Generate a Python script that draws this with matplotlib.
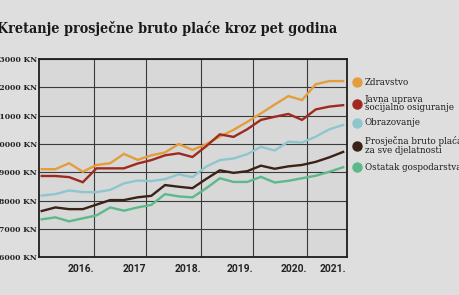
import matplotlib
matplotlib.use("Agg")
import matplotlib.pyplot as plt
from matplotlib.lines import Line2D

# data points (23 periods)
zdravstvo = [9110, 9110, 9320, 9020, 9260, 9320, 9650, 9440, 9600, 9700, 10000, 9790,
             9990, 10260, 10500, 10780, 11080, 11390, 11690, 11550, 12110, 12220, 12220]
javna_uprava = [8870, 8870, 8830, 8650, 9140, 9140, 9140, 9310, 9430, 9600, 9670, 9540,
                9920, 10340, 10250, 10520, 10850, 10960, 11060, 10850, 11220, 11320, 11370]
obrazovanje = [8180, 8230, 8360, 8300, 8300, 8380, 8610, 8710, 8690, 8760, 8930, 8830,
               9200, 9430, 9490, 9640, 9900, 9770, 10080, 10050, 10260, 10520, 10670]
prosjecna = [7635, 7760, 7700, 7700, 7860, 8020, 8020, 8118, 8170, 8550, 8490, 8440,
             8765, 9070, 8980, 9040, 9235, 9125, 9210, 9260, 9370, 9530, 9720]
ostatak = [7340, 7410, 7270, 7376, 7480, 7760, 7646, 7760, 7850, 8230, 8150, 8115,
           8435, 8790, 8660, 8660, 8840, 8640, 8700, 8790, 8880, 9020, 9180]

series = [zdravstvo, javna_uprava, obrazovanje, prosjecna, ostatak]
labels = ["Zdravstvo", "Javna uprava\nsocijalno osiguranje", "Obrazovanje",
          "Prosječna bruto plaća\nza sve djelatnosti", "Ostatak gospodarstva"]
colors = ["#E39E3C", "#9E2A1F", "#8FC6CE", "#3A2216", "#5CB98A"]

year_labels = ["2016.", "2017", "2018.", "2019.", "2020.", "2021."]
year_pos = [3.80, 7.64, 11.61, 15.45, 19.34, 22.26]
y_ticks = list(range(6000, 13001, 1000))

fig = plt.figure(figsize=(4.6, 2.95), dpi=100, facecolor="#dedede")
ax = fig.add_axes([0.0837, 0.1278, 0.670, 0.6722])
ax.set_facecolor("#d8d8d8")

x = list(range(len(zdravstvo)))
for s, c in zip(series, colors):
    ax.plot(x, s, color=c, linewidth=1.7, solid_joinstyle="miter")

ax.set_xlim(-0.234, 22.26)
ax.set_ylim(6000, 13000)
ax.set_xticks(year_pos)
ax.set_xticklabels(year_labels, fontfamily="Roboto", fontweight="bold", fontsize=7.4,
                   color="#222222")
for lab in ax.get_xticklabels():
    lab.set_ha("right")
ax.set_yticks(y_ticks)
ax.set_yticklabels([f"{v} KN" for v in y_ticks], fontfamily="DejaVu Serif",
                   fontweight="bold", fontsize=6.1, fontstretch="condensed",
                   color="#222222")
ax.tick_params(length=0, pad=1)
ax.tick_params(axis="x", pad=5)
ax.grid(True, color="#3a3a3a", linewidth=0.8)
ax.set_axisbelow(True)
for sp in ax.spines.values():
    sp.set_color("#1e1e1e")
    sp.set_linewidth(1.3)

fig.text(-0.006, 1 - 33 / 295, "Kretanje prosječne bruto plaće kroz pet godina",
         fontfamily="DejaVu Serif", fontweight="bold", fontsize=10.3,
         fontstretch="condensed", va="baseline", ha="left", color="#1a1a1a")

# legend drawn by hand
leg_y = [82.3, 103.5, 122.7, 145.5, 167.3]
for yy, lab, c in zip(leg_y, labels, colors):
    fy = 1 - yy / 295
    fig.add_artist(Line2D([356.7 / 460], [fy], marker="o", markersize=6.5,
                          color=c, linestyle="none", transform=fig.transFigure))
    fig.text(365 / 460, fy, lab, fontfamily="DejaVu Serif", fontsize=7,
             fontstretch="condensed", va="center", ha="left", linespacing=0.9,
             color="#1a1a1a")

fig.savefig("out.png", dpi=100, facecolor=fig.get_facecolor())
